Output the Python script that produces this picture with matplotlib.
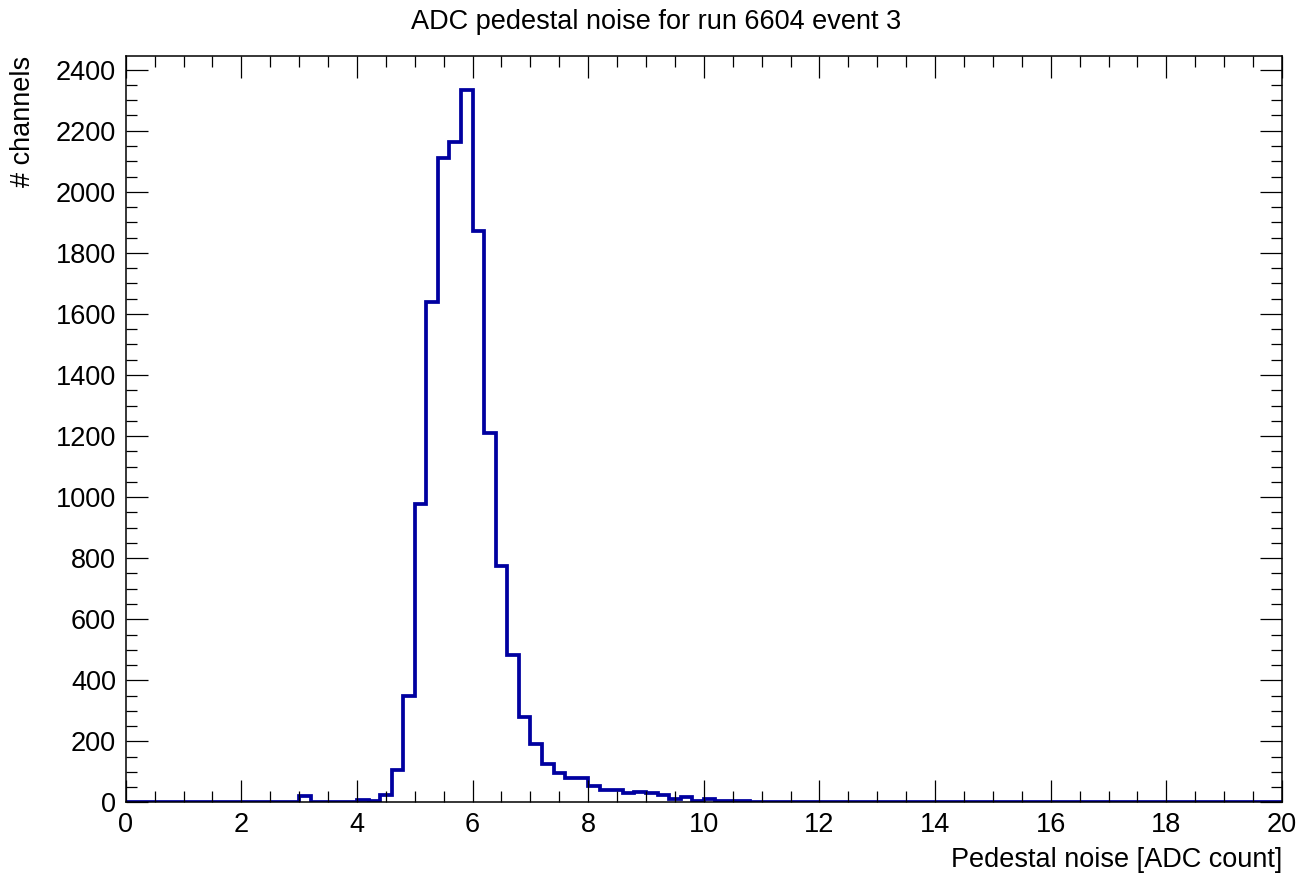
import numpy as np
import matplotlib.pyplot as plt
from matplotlib.ticker import MultipleLocator

plt.rcParams['font.family'] = ['Liberation Sans', 'DejaVu Sans']

# histogram: 100 bins from 0 to 20 (bin width 0.2)
x_min, x_max, n_bins = 0, 20, 100

# counts per bin
counts_low = [0] * 15 + [20] + [0] * 4          # 0.0 - 4.0
counts_peak = [8, 6, 25, 105, 350, 976, 1640, 2110, 2163, 2334,
               1873, 1209, 775, 482, 280, 190, 127, 98, 80, 80]   # 4.0 - 8.0
counts_tail = [55, 42, 42, 30, 36, 30, 23, 12, 19, 5,
               12, 5, 4, 4, 3, 1, 1, 1, 0, 0]    # 8.0 - 12.0
counts_rest = [0] * 40                           # 12.0 - 20.0
counts = np.array(counts_low + counts_peak + counts_tail + counts_rest)

title = 'ADC pedestal noise for run 6604 event 3'
xlabel = 'Pedestal noise [ADC count]'
ylabel = '# channels'

edges = np.linspace(x_min, x_max, n_bins + 1)

fs = 19.5

fig = plt.figure(figsize=(13.12, 8.84), dpi=100)
ax = fig.add_axes([0.0958, 0.0922, 0.8813, 0.8445])

ax.stairs(counts, edges, color='#0000a0', linewidth=2.7, baseline=0)

ax.set_xlim(x_min, x_max)
ax.set_ylim(0, 2445)

ax.xaxis.set_major_locator(MultipleLocator(2))
ax.xaxis.set_minor_locator(MultipleLocator(0.5))
ax.yaxis.set_major_locator(MultipleLocator(200))
ax.yaxis.set_minor_locator(MultipleLocator(50))

ax.tick_params(which='both', direction='in', top=True, right=True,
               width=0.9, labelsize=fs, colors='black')
ax.tick_params(which='major', length=15.8)
ax.tick_params(which='minor', length=7.9)
ax.tick_params(axis='x', which='major', pad=7)
ax.tick_params(axis='y', which='major', pad=7)

for sp in ax.spines.values():
    sp.set_linewidth(1.1)

ax.set_xlabel(xlabel, loc='right', fontsize=fs, labelpad=6)
ax.set_ylabel(ylabel, loc='top', fontsize=fs, labelpad=14)
fig.suptitle(title, x=0.5, y=0.975, va='center', fontsize=fs)

fig.savefig('out.png', dpi=100)
